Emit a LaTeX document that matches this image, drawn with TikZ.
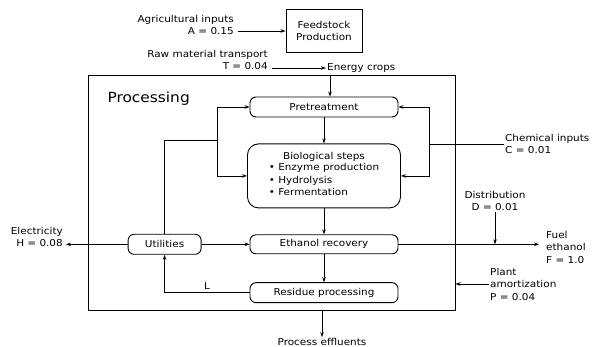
\documentclass[tikz,border=0pt]{standalone}
\usepackage{fontspec}
\setmainfont[FakeStretch=1.1]{DejaVu Sans}
\usetikzlibrary{arrows.meta,positioning}

\begin{document}
\begin{tikzpicture}[x=1pt,y=-1pt,
  font=\fontsize{9.5}{12.5}\selectfont,
  stage/.style={draw,line width=0.9pt,rounded corners=6pt,align=center,minimum width=148pt,minimum height=20pt,inner sep=1pt},
  lbl/.style={align=left,inner sep=1pt},
  arrow/.style={-{Stealth[length=5pt,width=3.5pt]},line width=0.7pt}
]
\useasboundingbox (0,0) rectangle (592,347);
% processing block
\node[draw,line width=1pt,minimum width=367pt,minimum height=235pt] (proc) at (271.5,193.5) {};
\node[font=\fontsize{14}{16}\selectfont,anchor=north west] (proclbl) at (104,88) {Processing};
\node[stage] (pre) at (324,107) {Pretreatment};
\node[stage,below=26pt of pre,minimum width=153pt,minimum height=64pt,rounded corners=11pt] (bio) {Biological steps\\
  \begin{tabular}{@{}l@{}}• Enzyme production\\• Hydrolysis\\• Fermentation\end{tabular}};
\node[stage,below=26pt of bio,minimum height=19pt] (eth) {Ethanol recovery};
\node[stage,below=28pt of eth] (res) {Residue processing};
\node[stage,left=48pt of eth,minimum width=73pt] (util) {Utilities};
% inputs and outputs
\node[draw,line width=0.9pt,minimum width=76pt,minimum height=43pt,align=center] (feed) at (324,31) {Feedstock\\Production};
\node[lbl,align=right,anchor=east] (agri) at (235,25) {Agricultural inputs\\A = 0.15};
\node[lbl,align=right,anchor=east] (raw) at (269,60) {Raw material transport\\T = 0.04};
\node[lbl,anchor=west] (crops) at (326,68) {Energy crops};
\node[lbl,align=right,anchor=east] (elec) at (64,237) {Electricity\\H = 0.08};
\node[lbl,anchor=west] (fuel) at (545,247) {Fuel\\ethanol\\F = 1.0};
\node[lbl,align=center] (dist) at (495,201) {Distribution\\D = 0.01};
\node[lbl,anchor=west] (plant) at (489,284) {Plant\\amortization\\P = 0.04};
\node[lbl,anchor=west] (chem) at (504,144) {Chemical inputs\\C = 0.01};
\node[lbl] (effl) at (322,342) {Process effluents};
\coordinate (rbus) at (429,144);
\coordinate (lbus) at (217,140);
% connectors
\draw[arrow,shorten <=3pt] (agri.east |- feed.west) -- (feed.west);
\draw[arrow,shorten <=3pt] (raw.east |- crops.west) -- (crops.west);
\draw[arrow] ([xshift=6pt]pre.north |- proc.north) -- ([xshift=6pt]pre.north);
\draw[arrow] (pre) -- (bio);
\draw[arrow] (bio) -- (eth);
\draw[arrow] (eth) -- (res);
\draw[arrow] (util) -- (eth);
\draw[arrow,shorten >=2pt] (util.west) -- (util.west -| elec.east);
\draw[arrow,shorten >=6pt] (eth.east) -- (eth.east -| fuel.west);
\draw[arrow] (dist.south) -- (dist.south |- eth.east);
\draw[arrow] (plant.west) -- (plant.west -| proc.east);
\draw[line width=0.7pt] (chem.west) -- (rbus);
\draw[arrow] (rbus) |- (pre.east);
\draw[arrow] (rbus) |- (bio.east);
\draw[line width=0.7pt] (util.north) |- (lbus);
\draw[arrow] (lbus) |- (pre.west);
\draw[arrow] (lbus) |- (bio.west);
\draw[arrow] (res.west) -| node[pos=0.25,above] {L} (util.south);
\draw[arrow] (effl.north |- proc.south) -- (effl.north);
\end{tikzpicture}
\end{document}
